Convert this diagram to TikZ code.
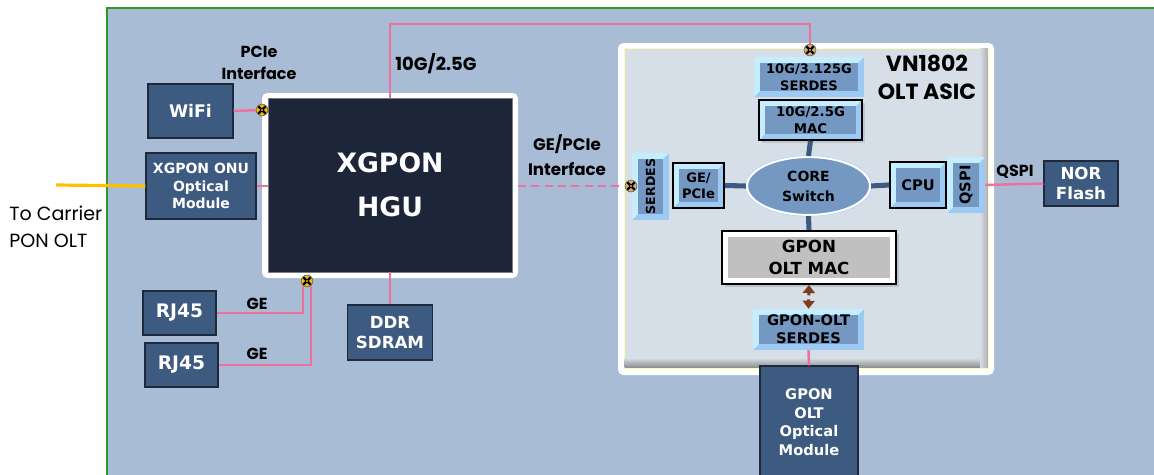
\documentclass[tikz,border=0pt]{standalone}
\usepackage{fontspec}
\setmainfont{DejaVu Sans}
\newfontfamily\gothic{Poppins}
\usetikzlibrary{arrows.meta,shapes.geometric,shadows}
\definecolor{bgblue}{HTML}{A9BCD6}
\definecolor{boxblue}{HTML}{3D5A80}
\definecolor{boxedge}{HTML}{1E2A3C}
\definecolor{hguc}{HTML}{1C2638}
\definecolor{pinkc}{HTML}{F0709C}
\definecolor{asicbg}{HTML}{D6DEE8}
\definecolor{bevin}{HTML}{7598C3}
\definecolor{bevlight}{HTML}{C4EDFD}
\definecolor{bevdark}{HTML}{9DCAF3}
\definecolor{yelc}{HTML}{FFC000}
\definecolor{greenc}{HTML}{2E9A2E}
\definecolor{markc}{HTML}{F2B900}
\definecolor{markt}{HTML}{D9B070}
\definecolor{brownc}{HTML}{7B3F1E}
\definecolor{grayc}{HTML}{C0C0C0}
\tikzset{
  sz/.style 2 args={minimum width=#1*0.75pt, minimum height=#2*0.75pt},
  box/.style={rectangle, fill=boxblue, draw=boxedge, line width=0.8pt, text=white, inner sep=0pt, align=center, font=\bfseries},
  bevel/.style={rectangle, inner sep=0pt, align=center, font=\bfseries, fill=bevdark,
    path picture={
      \fill[bevlight] (path picture bounding box.north west) -- (path picture bounding box.north east)
        -- ([shift={(-4.5pt,-4.5pt)}]path picture bounding box.north east)
        -- ([shift={(4.5pt,-4.5pt)}]path picture bounding box.north west)
        -- ([shift={(4.5pt,4.5pt)}]path picture bounding box.south west)
        -- (path picture bounding box.south west) -- cycle;
      \fill[bevin] ([shift={(4.5pt,-4.5pt)}]path picture bounding box.north west) rectangle ([shift={(-4.5pt,4.5pt)}]path picture bounding box.south east);
    }},
  bbox/.style={bevel, draw=black, line width=1.2pt},
  pinkline/.style={draw=pinkc, line width=1.9pt},
  blueline/.style={draw=boxblue, line width=3.8pt},
  marker/.style={circle, inner sep=0pt, minimum size=8.8pt, fill=markc, draw=black!60, line width=0.4pt,
    path picture={
      \draw[black, line width=1.7pt] ([shift={(1.6pt,-1.6pt)}]path picture bounding box.north west) -- ([shift={(-1.6pt,1.6pt)}]path picture bounding box.south east);
      \draw[black, line width=1.7pt] ([shift={(-1.6pt,-1.6pt)}]path picture bounding box.north east) -- ([shift={(1.6pt,1.6pt)}]path picture bounding box.south west);
      \fill[markc] (path picture bounding box.center) circle (0.9pt);
    }},
  tmarker/.style={marker, fill=markt},
  glabel/.style={font=\gothic\bfseries\fontsize{12}{16.5}\selectfont, align=center, inner sep=0pt},
}
\begin{document}
\begin{tikzpicture}[x=0.75pt,y=-0.75pt]
\useasboundingbox (0,0) rectangle (1154,475);
\fill[white] (0,0) rectangle (1154,475);
\draw[greenc, line width=1.1pt, fill=bgblue] (107,8) rectangle (1170,490);

% HGU
\fill[white, rounded corners=4pt] (262,93) rectangle (518,278);
\node[rectangle, fill=hguc, draw=hguc!60!white, line width=0.4pt, sz={244}{174}, text=white, font=\bfseries\fontsize{20}{33}\selectfont, align=center, inner sep=0pt] (hgu) at (390,185) {XGPON\\HGU};

% left boxes
\node[box, sz={85}{54}, font=\bfseries\fontsize{13}{15}\selectfont] (wifi) at (190.5,111) {WiFi};
\node[box, sz={110}{66}, font=\bfseries\fontsize{10.5}{13}\selectfont] (onu) at (201,186) {XGPON ONU\\Optical\\Module};
\node[box, sz={73}{44}, font=\bfseries\fontsize{14}{16}\selectfont] (rj1) at (179.5,313) {RJ45};
\node[box, sz={73}{44}, font=\bfseries\fontsize{14}{16}\selectfont] (rj2) at (181.5,365) {RJ45};
\node[box, sz={85}{55}, font=\bfseries\fontsize{12.5}{15}\selectfont] (ddr) at (390,332.5) {DDR\\SDRAM};

% ASIC frame
\fill[white, rounded corners=4pt] (618,43) rectangle (994,375);
\node[rectangle, fill=asicbg, draw=yellow!30!white, line width=0.6pt, sz={364}{320}, inner sep=0pt] (asic) at (806,208) {};
\shade[top color=asicbg, bottom color=black!45] (624.5,358) -- (987.5,358) -- (987.5,367.5) -- (624.5,367.5) -- cycle;
\shade[left color=asicbg, right color=black!30] (980,48.5) rectangle (987.5,367.5);

% ASIC internals
\node[bevel, sz={110}{40}, font=\bfseries\fontsize{9.8}{12.5}\selectfont] (serdes10) at (809,77) {10G/3.125G\\SERDES};
\node[bbox, sz={103}{40}, font=\bfseries\fontsize{10}{12.5}\selectfont, drop shadow={opacity=0.25, shadow xshift=2pt, shadow yshift=-2pt}] (mac10) at (810.5,120) {10G/2.5G\\MAC};
\node[ellipse, fill=bevin, draw=white, line width=1.6pt, sz={123}{58}, inner sep=0pt, align=center, font=\bfseries\fontsize{10.5}{15}\selectfont] (core) at (808.5,186) {CORE\\Switch};
\draw[bevdark!70!white, line width=0.5pt] (core.center) ellipse (47.5pt and 22.7pt);
\node[bbox, sz={51}{45}, font=\bfseries\fontsize{9.8}{12}\selectfont] (gepcie) at (698.5,185.5) {GE/\\PCIe};
\node[bevel, sz={37}{67}] (serdesv) at (650.5,186.5) {};
\node[rotate=90, font=\bfseries\fontsize{9.4}{11}\selectfont, inner sep=0pt] (serdesvt) at (serdesv.center) {SERDES};
\node[bbox, sz={56}{46}, font=\bfseries\fontsize{11}{13}\selectfont] (cpu) at (918,185) {CPU};
\node[bevel, sz={38}{56}] (qspiv) at (966,185) {};
\node[rotate=90, font=\bfseries\fontsize{11}{13}\selectfont, inner sep=0pt] (qspivt) at (qspiv.center) {QSPI};
\node[rectangle, fill=white, draw=black, line width=1.5pt, sz={174}{53}, inner sep=0pt, align=center, font=\bfseries\fontsize{12.5}{16}\selectfont, drop shadow={opacity=0.3, shadow xshift=2pt, shadow yshift=-2pt},
  path picture={\fill[grayc] ([shift={(4.5pt,-4.5pt)}]path picture bounding box.north west) rectangle ([shift={(-4.5pt,4.5pt)}]path picture bounding box.south east);}] (gponmac) at (809,257.5) {GPON\\OLT MAC};
\node[bevel, sz={111}{41}, font=\bfseries\fontsize{11}{13.5}\selectfont] (gponserdes) at (808.5,329.5) {GPON-OLT\\SERDES};

% right / bottom boxes
\node[box, sz={74}{45}, font=\bfseries\fontsize{12.5}{14.5}\selectfont] (nor) at (1081,183.5) {NOR\\Flash};
\node[box, sz={98}{112}, font=\bfseries\fontsize{11}{14}\selectfont] (optmod) at (809,422) {GPON\\OLT\\Optical\\Module};

% labels
\node[anchor=west, font=\gothic\fontsize{14.3}{20.5}\selectfont, align=left, inner sep=0pt] (carrier) at (9,227) {To Carrier\\PON OLT};
\node[glabel] (pcielbl) at (259,63) {PCIe\\Interface};
\node[glabel, font=\gothic\bfseries\fontsize{13.5}{16}\selectfont] (g10lbl) at (436,64) {10G/2.5G};
\node[glabel, font=\gothic\bfseries\fontsize{12.5}{19}\selectfont] (gelbl) at (567,155) {GE/PCIe\\Interface};
\node[glabel] (ge1) at (257,304) {GE};
\node[glabel] (ge2) at (257,354) {GE};
\node[glabel, font=\gothic\bfseries\fontsize{16.5}{21}\selectfont] (vnlbl) at (927,77) {VN1802\\OLT ASIC};
\node[glabel] (qspilbl) at (1015,172) {QSPI};

% coordinates
\coordinate (yel) at (56,185);
\coordinate (ctop) at (810,24);
\coordinate (rjA) at (303,283);
\coordinate (rjB) at (311,283);
\coordinate (dstart) at (518,186);

% markers (positions)
\node[marker] (mwifi) at (262,110) {};
\node[marker] (mrj) at (307,281) {};
\node[tmarker] (mge) at (631,186) {};
\node[tmarker] (mtop) at (810,50) {};

% connectors
\draw[draw=yelc, line width=2.4pt] (yel) -- (onu.west);
\draw[pinkline] (wifi.east) -- (mwifi.center);
\draw[pinkline] (onu.east) -- (onu.east -| hgu.west);
\draw[pinkline] (hgu.north) |- (ctop) -- (mtop.center);
\draw[pinkline] (rj1.east) -| (rjA);
\draw[pinkline] (rj2.east) -| (rjB);
\draw[pinkline] (hgu.south) -- (ddr.north);
\draw[pinkline, dash pattern=on 6pt off 4pt] (dstart) -- (mge.center);
\draw[pinkline] (qspiv.east) -- (nor.west);
\draw[pinkline] (gponserdes.south) -- (optmod.north);
\draw[blueline] (mac10.south) -- (core.north);
\draw[blueline] (core.south) -- (gponmac.north);
\draw[blueline] (gepcie.east) -- (core.west);
\draw[blueline] (core.east) -- (cpu.west);
\draw[brownc, line width=2.2pt, dash pattern=on 2.2pt off 3pt, {Triangle[length=6pt,width=9pt]}-{Triangle[length=6pt,width=9pt]}] (gponmac.south) -- (gponserdes.north);

% redraw markers on top
\node[marker] (mwifi2) at (mwifi) {};
\node[marker] (mrj2) at (mrj) {};
\node[tmarker] (mge2) at (mge) {};
\node[tmarker] (mtop2) at (mtop) {};
\end{tikzpicture}
\end{document}
